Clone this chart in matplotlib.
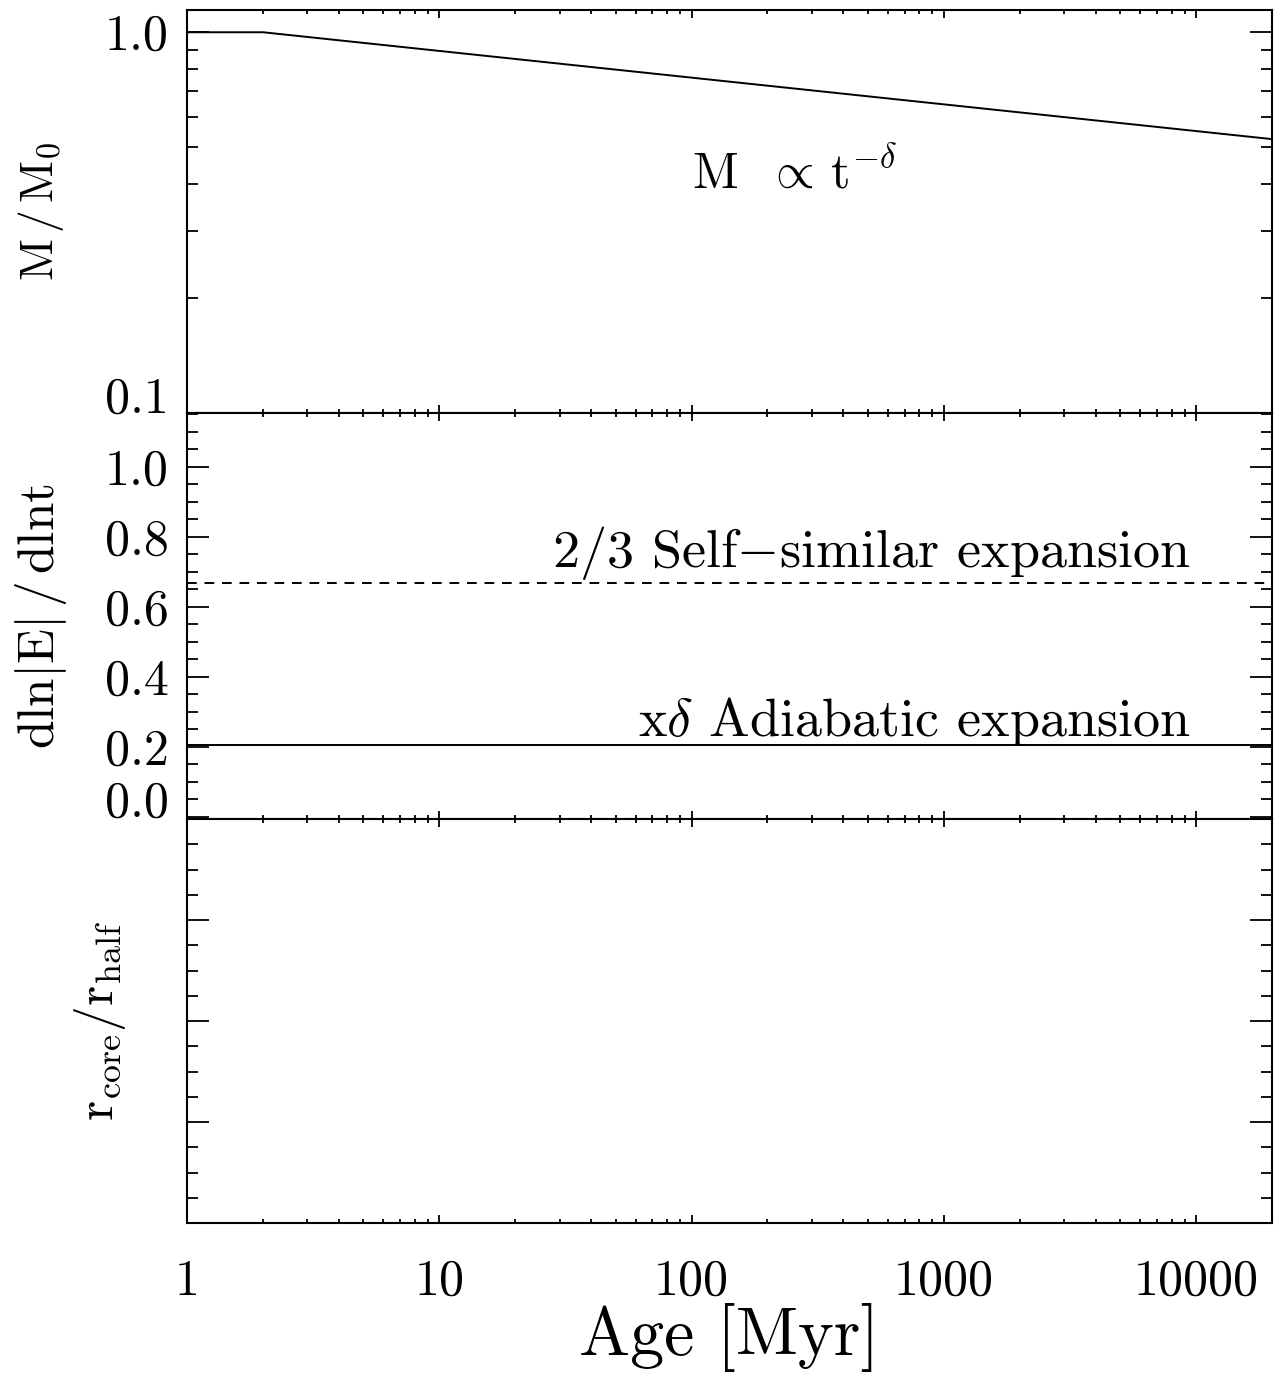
import matplotlib
matplotlib.use("Agg")
import matplotlib.pyplot as plt
from matplotlib.ticker import FixedLocator, FixedFormatter, NullFormatter

plt.rcParams['font.family'] = ['cmr10', 'DejaVu Serif']
plt.rcParams['mathtext.fontset'] = 'cm'
plt.rcParams['axes.formatter.use_mathtext'] = True
plt.rcParams['axes.unicode_minus'] = False

# ---------------- data ----------------
age_mass = [1.0, 2.0, 20000.0]          # Myr
mass_frac = [1.0, 1.0, 0.524]           # M/M0

self_similar_rate = 0.667               # 2/3
adiabatic_rate = 0.206                  # x*delta

x_ticks = [1, 10, 100, 1000, 10000]
x_ticklabels = ['1', '10', '100', '1000', '10000']
x_minor = [m * d for d in [1, 10, 100, 1000, 10000] for m in range(2, 10)]

top_major = [0.1, 1.0]
top_labels = ['0.1', '1.0']
top_minor = [0.2, 0.3, 0.4, 0.5, 0.6, 0.7, 0.8, 0.9]

mid_major = [0.0, 0.2, 0.4, 0.6, 0.8, 1.0]
mid_labels = ['0.0', '0.2', '0.4', '0.6', '0.8', '1.0']
mid_minor = [i * 0.05 for i in range(0, 24)]

bot_major = [0.0, 0.25, 0.5, 0.75, 1.0]
bot_minor = [i / 16 for i in range(0, 17)]

# ---------------- figure ----------------
W, H = 1274, 1375
fig = plt.figure(figsize=(W / 100, H / 100), dpi=100)

def px_axes(x0, x1, y0, y1):
    return fig.add_axes([x0 / W, 1 - y1 / H, (x1 - x0) / W, (y1 - y0) / H])

ax1 = px_axes(187, 1272, 10, 413)
ax2 = px_axes(187, 1272, 413, 819)
ax3 = px_axes(187, 1272, 819, 1223)

lw_sp = 1.5
for ax in (ax1, ax2, ax3):
    ax.set_xscale('log')
    ax.set_xlim(1, 20000)
    ax.xaxis.set_major_locator(FixedLocator(x_ticks))
    ax.xaxis.set_minor_locator(FixedLocator(x_minor))
    ax.xaxis.set_minor_formatter(NullFormatter())
    for s in ax.spines.values():
        s.set_linewidth(lw_sp)
    ax.tick_params(which='both', direction='in', top=True, right=True,
                   width=1.3, colors='black')
    ax.tick_params(axis='x', which='major', length=5.5)
    ax.tick_params(axis='x', which='minor', length=3.0)
    ax.tick_params(axis='y', which='major', length=16, pad=13, labelsize=36)
    ax.tick_params(axis='y', which='minor', length=8)

for ax in (ax1, ax2):
    ax.xaxis.set_major_formatter(NullFormatter())

ax3.xaxis.set_major_formatter(FixedFormatter(x_ticklabels))
ax3.tick_params(axis='x', which='major', labelsize=36, pad=26)

# ---- top panel ----
ax1.set_yscale('log')
ax1.set_ylim(0.1, 1.144)
ax1.yaxis.set_major_locator(FixedLocator(top_major))
ax1.yaxis.set_major_formatter(FixedFormatter(top_labels))
ax1.yaxis.set_minor_locator(FixedLocator(top_minor))
ax1.yaxis.set_minor_formatter(NullFormatter())
ax1.plot(age_mass, mass_frac, color='black', lw=1.4)
ax1.text(100, 0.39, r'$\mathrm{M}\ \ \propto\, \mathrm{t}^{-\delta}$', fontsize=36,
         ha='left', va='baseline')
ax1.set_ylabel(r'$\mathrm{M\,/\,M_0}$', fontsize=33, va='center')
ax1.yaxis.set_label_coords(-0.135, 0.5)

# ---- middle panel ----
ax2.set_ylim(-0.006, 1.154)
ax2.yaxis.set_major_locator(FixedLocator(mid_major))
ax2.yaxis.set_major_formatter(FixedFormatter(mid_labels))
ax2.yaxis.set_minor_locator(FixedLocator(mid_minor))
ax2.axhline(self_similar_rate, color='black', lw=1.4, ls=(0, (5, 4)))
ax2.axhline(adiabatic_rate, color='black', lw=1.4)
ax2.text(9550, 0.715, r'2/3 Self$-$similar expansion', fontsize=39,
         ha='right', va='baseline')
ax2.text(9550, 0.231, r'x$\delta$ Adiabatic expansion', fontsize=39,
         ha='right', va='baseline')
ax2.set_ylabel(r'$\mathrm{dln|E|\,/\,dlnt}$', fontsize=37, va='center')
ax2.yaxis.set_label_coords(-0.135, 0.5)

# ---- bottom panel ----
ax3.set_ylim(0, 1)
ax3.yaxis.set_major_locator(FixedLocator(bot_major))
ax3.yaxis.set_major_formatter(NullFormatter())
ax3.yaxis.set_minor_locator(FixedLocator(bot_minor))
ax3.set_ylabel(r'$\mathrm{r_{core}/r_{half}}$', fontsize=37, va='center')
ax3.yaxis.set_label_coords(-0.080, 0.5)
ax3.set_xlabel('Age [Myr]', fontsize=49, va='baseline')
ax3.xaxis.set_label_coords(0.5, -0.327)

# baseline-style placement of lowest labels
fig.canvas.draw()
for lab in ax1.get_yticklabels():
    if lab.get_text() == '0.1':
        lab.set_va('baseline')
for lab in ax2.get_yticklabels():
    if lab.get_text() == '0.0':
        lab.set_va('baseline')

fig.savefig('out.png', dpi=100)
